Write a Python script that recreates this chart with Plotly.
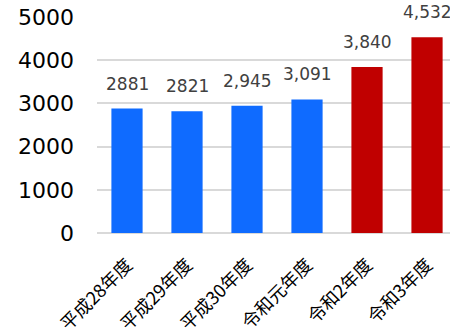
import plotly.graph_objects as go

# Fiscal years and counts
years = ["平成28年度", "平成29年度", "平成30年度", "令和元年度", "令和2年度", "令和3年度"]
counts = [2881, 2821, 2945, 3091, 3840, 4532]
count_labels = ["2881", "2821", "2,945", "3,091", "3,840", "4,532"]
bar_colors = ["#0F6BFF", "#0F6BFF", "#0F6BFF", "#0F6BFF", "#C00000", "#C00000"]
y_ticks = [0, 1000, 2000, 3000, 4000, 5000]

fig = go.Figure(
    go.Bar(
        x=list(range(len(years))),
        y=counts,
        marker=dict(color=bar_colors, line=dict(width=0)),
        width=0.52,
        hoverinfo="skip",
    )
)

for i, (v, lbl) in enumerate(zip(counts, count_labels)):
    fig.add_annotation(
        x=i, y=v, text=lbl, showarrow=False,
        yanchor="bottom", yshift=13,
        font=dict(family="DejaVu Sans", size=17, color="#404040"),
    )

fig.update_layout(
    width=450, height=332,
    margin=dict(l=97, r=0, t=17, b=99, autoexpand=False),
    plot_bgcolor="white", paper_bgcolor="white",
    showlegend=False,
    xaxis=dict(
        range=[-0.5, 5.383],
        tickvals=list(range(len(years))),
        ticktext=years,
        tickangle=-45,
        tickfont=dict(family="Noto Sans CJK JP", size=18, color="#000000"),
        showgrid=False, zeroline=False, showline=False, ticks="",
        ticklabelstandoff=17, automargin=False,
    ),
    yaxis=dict(
        range=[0, 5000],
        tickvals=y_ticks,
        tickformat="d",
        tickfont=dict(family="DejaVu Sans", size=22, color="#000000"),
        showgrid=True, gridcolor="#D9D9D9", gridwidth=1.5,
        zeroline=True, zerolinecolor="#D9D9D9", zerolinewidth=2,
        ticks="", ticklabelstandoff=22, automargin=False,
    ),
)

fig.write_html("out.html")
